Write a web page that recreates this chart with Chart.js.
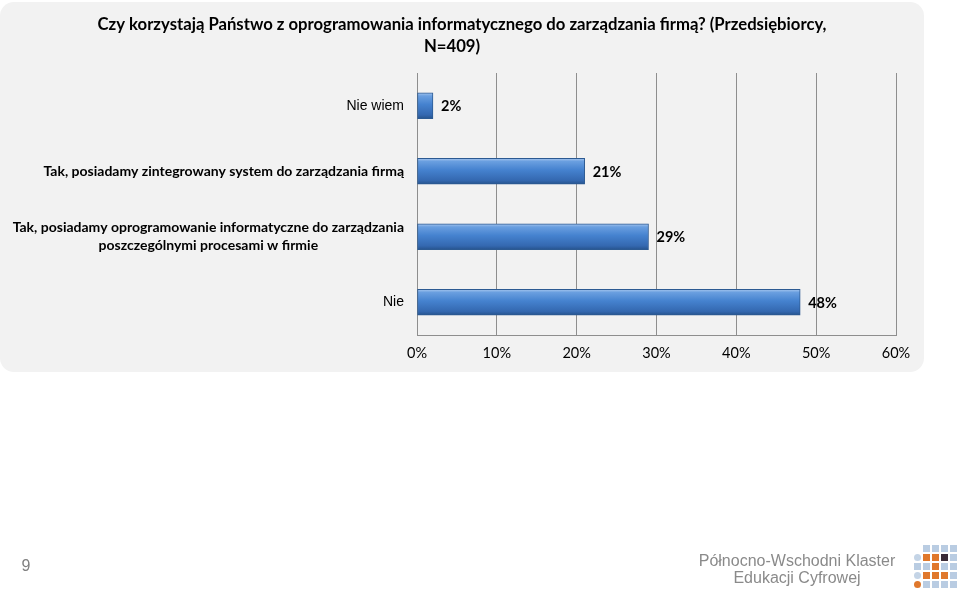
<!DOCTYPE html>
<html>
<head>
<meta charset="utf-8">
<script src="https://cdn.jsdelivr.net/npm/chart.js@4.4.1/dist/chart.umd.min.js"></script>
<style>
  body { margin: 0; background: #ffffff; }
  #wrap { position: relative; width: 960px; height: 593px; }
</style>
</head>
<body>
<div id="wrap"><canvas id="myChart" width="960" height="593"></canvas></div>
<script>
// data
const titleLines = ['Czy korzystają Państwo z oprogramowania informatycznego do zarządzania firmą? (Przedsiębiorcy,', 'N=409)'];
const categories = [
  ['Nie wiem'],
  ['Tak, posiadamy zintegrowany system do zarządzania firmą'],
  ['Tak, posiadamy oprogramowanie informatyczne do zarządzania', 'poszczególnymi procesami w firmie'],
  ['Nie']
];
const shares = [2, 21, 29, 48];
const axisMin = 0;
const axisMax = 60;
const axisStep = 10;
const pageNumber = '9';
const logoLines = ['Północno-Wschodni Klaster', 'Edukacji Cyfrowej'];

const GRID = '#8e8e8e';
const CAL = 'Lato, "Open Sans", sans-serif';
const ARIAL = '"Liberation Sans", Arial, sans-serif';

// slide background, title, footer
const slidePlugin = {
  id: 'slide',
  beforeDraw(chart) {
    const c = chart.ctx;
    c.save();
    c.fillStyle = '#f2f2f2';
    c.beginPath();
    c.roundRect(0, 2, 924, 370, 14);
    c.fill();

    c.fillStyle = '#000';
    c.textAlign = 'center';
    c.textBaseline = 'middle';
    c.font = 'bold 16.7px ' + CAL;
    c.fillText(titleLines[0], 462, 25);
    c.fillText(titleLines[1], 452, 47);

    c.fillStyle = '#808080';
    c.font = '16px ' + ARIAL;
    c.fillText(pageNumber, 26, 567);
    c.font = '16px ' + ARIAL;
    c.fillStyle = '#8a8a8a';
    c.fillText(logoLines[0], 797, 562);
    c.fillText(logoLines[1], 797, 579);

    // logo squares
    const pattern = [
      '.bbbb',
      'coodb',
      'bbobb',
      'cooob',
      'Obbbb'
    ];
    const cols = { b: '#b9cce2', o: '#e0782c', d: '#3b2b36', c: '#c4d4e6', O: '#e0782c' };
    pattern.forEach((row, r) => {
      row.split('').forEach((ch, k) => {
        if (ch === '.') return;
        c.fillStyle = cols[ch];
        const x = 914 + k * 9, y = 545 + r * 9;
        if (ch === 'O' || ch === 'c') {
          c.beginPath(); c.arc(x + 3.5, y + 3.5, 3.5, 0, Math.PI * 2); c.fill();
        } else {
          c.fillRect(x, y, 7, 7);
        }
      });
    });
    c.restore();
  },
  afterDatasetsDraw(chart) {
    const c = chart.ctx;
    const meta = chart.getDatasetMeta(0);
    c.save();
    c.fillStyle = '#000';
    c.textBaseline = 'middle';
    c.textAlign = 'left';
    c.font = 'bold 14.5px ' + CAL;
    meta.data.forEach((bar, i) => {
      c.fillText(shares[i] + '%', bar.x + 8, bar.y + 1);
    });

    // category labels, right-aligned block, lines centered inside it
    const yScale = chart.scales.y;
    categories.forEach((lines, i) => {
      const plain = lines.length === 1 && lines[0].indexOf(',') < 0;
      c.font = plain ? '14px ' + ARIAL : 'bold 14px ' + CAL;
      const widths = lines.map(t => c.measureText(t).width);
      const blockW = Math.max(...widths);
      const right = chart.chartArea.left - 13;
      const cy = yScale.getPixelForValue(i);
      const lh = 18;
      const y0 = cy - (lines.length - 1) * lh / 2;
      c.textAlign = 'center';
      lines.forEach((t, k) => {
        c.fillText(t, right - blockW / 2, y0 + k * lh);
      });
    });
    c.restore();
  }
};

function barFill(ctx) {
  if (ctx.type !== 'data' || !ctx.chart.chartArea) return '#3f7bc8';
  const y = ctx.chart.scales.y.getPixelForValue(ctx.dataIndex);
  const g = ctx.chart.ctx.createLinearGradient(0, y - 13, 0, y + 13);
  g.addColorStop(0, '#a9c8ef');
  g.addColorStop(0.12, '#6a9fe0');
  g.addColorStop(0.45, '#4582cf');
  g.addColorStop(0.85, '#3468b0');
  g.addColorStop(1, '#26538c');
  return g;
}

new Chart(document.getElementById('myChart'), {
  type: 'bar',
  data: {
    labels: categories,
    datasets: [{
      data: shares,
      backgroundColor: barFill,
      borderColor: '#2c5a92',
      borderWidth: 1,
      borderSkipped: false,
      barThickness: 26
    }]
  },
  options: {
    indexAxis: 'y',
    responsive: false,
    animation: false,
    layout: { padding: { left: 0, top: 73, right: 64, bottom: 218 } },
    plugins: { legend: { display: false }, tooltip: { enabled: false } },
    scales: {
      x: {
        min: axisMin,
        max: axisMax,
        ticks: {
          stepSize: axisStep,
          callback: v => v + '%',
          color: '#000',
          font: { family: CAL, size: 14.5 },
          padding: 10
        },
        grid: { color: GRID, drawTicks: false },
        border: { color: GRID },
        afterFit(scale) { scale.height = 40; }
      },
      y: {
        ticks: { display: false },
        grid: { display: false },
        border: { color: GRID },
        afterFit(scale) { scale.width = 417; }
      }
    }
  },
  plugins: [slidePlugin]
});
</script>
</body>
</html>
